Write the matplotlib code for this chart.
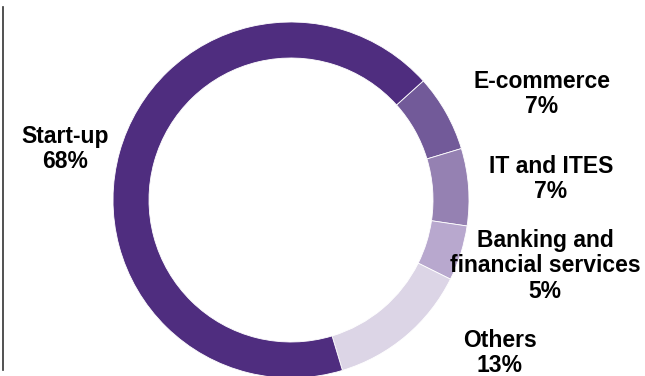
import matplotlib.pyplot as plt
from matplotlib.lines import Line2D

# data
sectors = ['E-commerce', 'IT and ITES', 'Banking and\nfinancial services', 'Others', 'Start-up']
shares = [7, 7, 5, 13, 68]
colors = ['#725a99', '#9581b2', '#b8a8ce', '#dcd5e6', '#4f2d7f']

# label centres in pixels (x, y from top)
label_pos = [(542, 94), (551, 179), (545, 266), (500, 353), (65, 149)]

H = 376
fig = plt.figure(figsize=(6.45, 3.76), dpi=100)
ax = fig.add_axes([0, 0, 1, 1])
ax.set_xlim(0, 645)
ax.set_ylim(0, H)
ax.set_aspect('equal')
ax.axis('off')

ax.pie(shares, colors=colors, startangle=42, counterclock=False,
       center=(291, H - 200), radius=178,
       wedgeprops=dict(width=36, edgecolor='white', linewidth=0.6))
ax.set_xlim(0, 645)
ax.set_ylim(0, H)

for name, val, (x, y) in zip(sectors, shares, label_pos):
    ax.text(x, H - y, f'{name}\n{val}%', ha='center', va='center',
            fontsize=16.5, fontweight='bold', family='Liberation Sans',
            linespacing=1.14, color='black')

# thin vertical rule on the left
fig.add_artist(Line2D([0.005, 0.005], [1 - 7 / H, 1 - 370 / H], color='#333333', lw=1.2))

fig.savefig('out.png', dpi=100)
